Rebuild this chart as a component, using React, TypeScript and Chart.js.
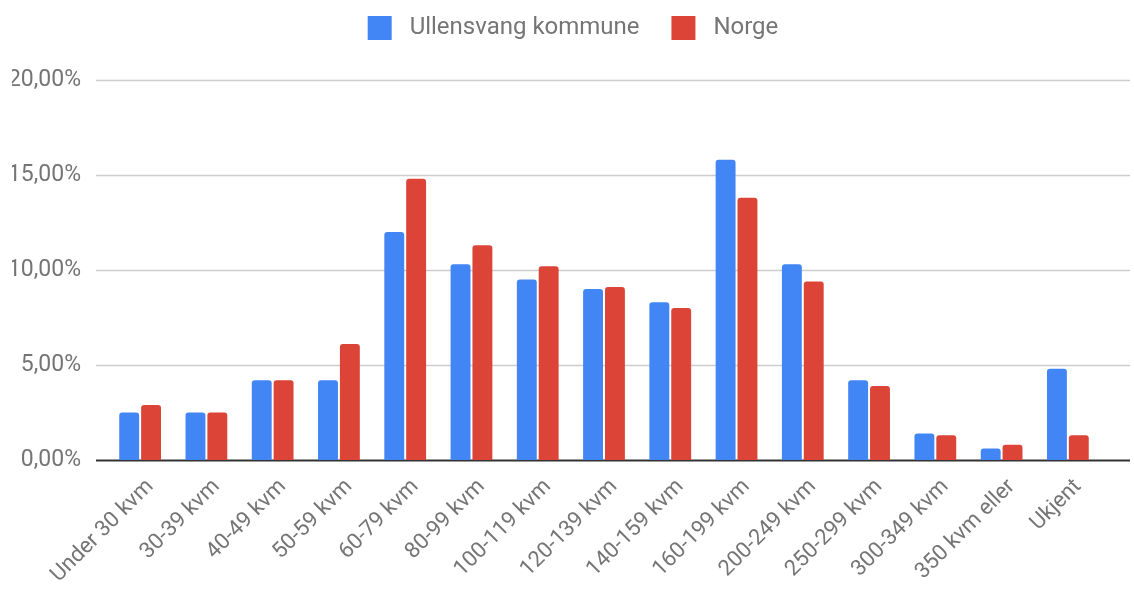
import React, { useEffect, useRef } from "react";
import { Chart, registerables } from "chart.js";

Chart.register(...registerables);

const categories = [
  "Under 30 kvm",
  "30-39 kvm",
  "40-49 kvm",
  "50-59 kvm",
  "60-79 kvm",
  "80-99 kvm",
  "100-119 kvm",
  "120-139 kvm",
  "140-159 kvm",
  "160-199 kvm",
  "200-249 kvm",
  "250-299 kvm",
  "300-349 kvm",
  "350 kvm eller",
  "Ukjent",
];

const ullensvang = [2.5, 2.5, 4.2, 4.2, 12.0, 10.3, 9.5, 9.0, 8.3, 15.8, 10.3, 4.2, 1.4, 0.6, 4.8];
const norge = [2.9, 2.5, 4.2, 6.1, 14.8, 11.3, 10.2, 9.1, 8.0, 13.8, 9.4, 3.9, 1.3, 0.8, 1.3];

const yTicks = [0, 5, 10, 15, 20];

const FONT = "Roboto";
const TEXT = "#757575";

const gridPlugin = {
  id: "extendedGrid",
  afterInit(chart: any) {
    const legend = chart.legend;
    if (legend && !legend.__patched) {
      const orig = legend.fit.bind(legend);
      legend.fit = function () {
        orig();
        this.height += 30;
      };
      legend.__patched = true;
    }
  },
  beforeDatasetsDraw(chart: any) {
    const { ctx } = chart;
    const y = chart.scales.y;
    ctx.save();
    yTicks.forEach((v) => {
      const py = Math.round(y.getPixelForValue(v)) + 0.5;
      ctx.beginPath();
      ctx.moveTo(96, py);
      ctx.lineTo(1130, py);
      if (v === 0) {
        ctx.strokeStyle = "#333333";
        ctx.lineWidth = 2;
      } else {
        ctx.strokeStyle = "#cccccc";
        ctx.lineWidth = 1.5;
      }
      ctx.stroke();
    });
    ctx.restore();
  },
};

export default function App() {
  const ref = useRef<HTMLCanvasElement>(null);

  useEffect(() => {
    document.body.style.margin = "0";
    if (!ref.current) return;
    const chart = new Chart(ref.current, {
      type: "bar",
      data: {
        labels: categories,
        datasets: [
          {
            label: "Ullensvang kommune",
            data: ullensvang,
            backgroundColor: "#4285F4",
            borderRadius: { topLeft: 3, topRight: 3, bottomLeft: 0, bottomRight: 0 },
            borderSkipped: false,
            categoryPercentage: 0.66,
            barPercentage: 0.91,
          },
          {
            label: "Norge",
            data: norge,
            backgroundColor: "#DB4437",
            borderRadius: { topLeft: 3, topRight: 3, bottomLeft: 0, bottomRight: 0 },
            borderSkipped: false,
            categoryPercentage: 0.66,
            barPercentage: 0.91,
          },
        ],
      },
      options: {
        animation: false,
        responsive: true,
        maintainAspectRatio: false,
        layout: { padding: { top: 2, right: 0, left: 12, bottom: 0 } },
        plugins: {
          legend: {
            position: "top",
            labels: {
              boxWidth: 24,
              boxHeight: 24,
              padding: 14,
              color: TEXT,
              font: { family: FONT, size: 24 },
              generateLabels: (c: any) => {
                const items = Chart.defaults.plugins.legend.labels.generateLabels(c);
                return items.map((it: any, i: number) => ({
                  ...it,
                  text: " " + it.text + (i < items.length - 1 ? "   " : ""),
                }));
              },
            },
          },
          tooltip: { enabled: false },
        },
        scales: {
          x: {
            grid: { display: false, drawTicks: false },
            border: { display: false },
            ticks: {
              color: TEXT,
              font: { family: FONT, size: 22 },
              maxRotation: 45,
              minRotation: 45,
              padding: 14,
              labelOffset: 10,
              autoSkip: false,
            },
            afterFit: (s: any) => {
              s.height = 130;
            },
          },
          y: {
            min: 0,
            max: 20,
            grid: { display: false },
            border: { display: false },
            ticks: {
              stepSize: 5,
              color: TEXT,
              font: { family: FONT, size: 23 },
              padding: 18,
              callback: (v: any) => Number(v).toFixed(2).replace(".", ",") + "%",
            },
            afterFit: (s: any) => {
              s.width = 95;
            },
          },
          yRight: {
            position: "right",
            display: true,
            grid: { display: false },
            border: { display: false },
            ticks: { display: false },
            afterFit: (s: any) => {
              s.width = 33;
            },
          },
        },
      },
      plugins: [gridPlugin],
    });
    return () => chart.destroy();
  }, []);

  return (
    <div style={{ position: "absolute", left: 0, top: 0, width: 1134, height: 590 }}>
      <canvas ref={ref} />
    </div>
  );
}
